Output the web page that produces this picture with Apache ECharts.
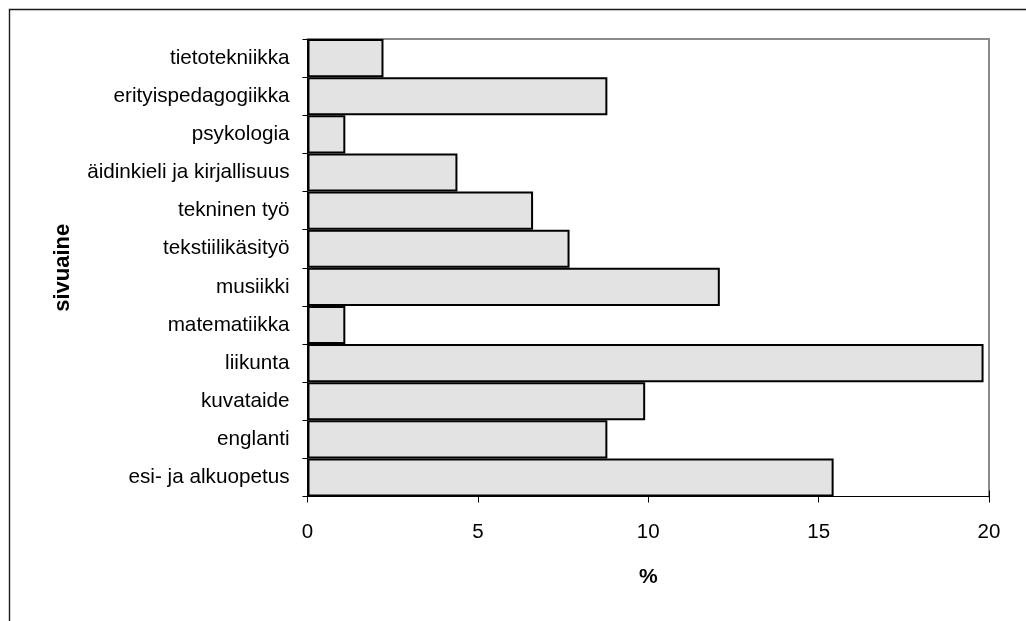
<!DOCTYPE html>
<html>
<head>
<meta charset="utf-8">
<script src="https://cdn.jsdelivr.net/npm/echarts@6/dist/echarts.min.js"></script>
<style>
  html, body { margin: 0; padding: 0; background: #fff; }
  #chart { width: 1026px; height: 621px; }
</style>
</head>
<body>
<div id="chart"></div>
<script>
// Sivuaineet, listed top to bottom
const categories = [
  'tietotekniikka',
  'erityispedagogiikka',
  'psykologia',
  'äidinkieli ja kirjallisuus',
  'tekninen työ',
  'tekstiilikäsityö',
  'musiikki',
  'matematiikka',
  'liikunta',
  'kuvataide',
  'englanti',
  'esi- ja alkuopetus'
];
// Osuus vastaajista (%)
const shares = [2.23, 8.8, 1.11, 4.4, 6.62, 7.69, 12.1, 1.11, 19.84, 9.91, 8.8, 15.44];
const xMin = 0, xMax = 20, xStep = 5;
const xTitle = '%';
const yTitle = 'sivuaine';

const FONT = '"Liberation Sans", Arial, sans-serif';
const chart = echarts.init(document.getElementById('chart'), null, { renderer: 'canvas' });

chart.setOption({
  animation: false,
  backgroundColor: '#ffffff',
  textStyle: { fontFamily: FONT },
  grid: { left: 307.5, right: 37, top: 39, bottom: 124.5, containLabel: false },
  graphic: [{
    type: 'polyline',
    shape: { points: [[9.5, 640], [9.5, 9.5], [1040, 9.5]] },
    style: { stroke: '#1a1a1a', lineWidth: 1.4, fill: null },
    silent: true
  }],
  xAxis: [
    {
      type: 'value', position: 'bottom', min: xMin, max: xMax, interval: xStep,
      name: xTitle, nameLocation: 'middle', nameGap: 70,
      nameTextStyle: { fontFamily: FONT, fontSize: 21, fontWeight: 'bold', color: '#000' },
      axisLine: { show: true, onZero: false, lineStyle: { color: '#000', width: 1 } },
      axisTick: { show: true, inside: false, length: 6, lineStyle: { color: '#000', width: 1 } },
      axisLabel: { show: true, margin: 25, fontFamily: FONT, fontSize: 20.5, color: '#000' },
      splitLine: { show: false }
    },
    {
      type: 'value', position: 'bottom', min: xMin, max: xMax, interval: xStep,
      axisLine: { show: false },
      axisTick: { show: true, inside: true, length: 6, lineStyle: { color: '#000', width: 1 } },
      axisLabel: { show: false },
      splitLine: { show: false }
    },
    {
      type: 'value', position: 'top', min: xMin, max: xMax, interval: xStep,
      axisLine: { show: true, onZero: false, lineStyle: { color: '#8a8a8a', width: 2 } },
      axisTick: { show: false }, axisLabel: { show: false }, splitLine: { show: false }
    }
  ],
  yAxis: [
    {
      type: 'category', data: categories, inverse: true, position: 'left',
      name: yTitle, nameLocation: 'middle', nameGap: 234, nameRotate: 90,
      nameTextStyle: { fontFamily: FONT, fontSize: 22, fontWeight: 'bold', color: '#000' },
      axisLine: { show: true, onZero: false, lineStyle: { color: '#000', width: 1 } },
      axisTick: { show: true, inside: false, length: 5, alignWithLabel: false, lineStyle: { color: '#000', width: 1 } },
      axisLabel: { show: true, margin: 18, fontFamily: FONT, fontSize: 20.7, color: '#000', interval: 0 },
      splitLine: { show: false }
    },
    {
      type: 'value', position: 'right', min: 0, max: 1,
      axisLine: { show: true, onZero: false, lineStyle: { color: '#8a8a8a', width: 2 } },
      axisTick: { show: false }, axisLabel: { show: false }, splitLine: { show: false }
    }
  ],
  series: [{
    type: 'bar',
    xAxisIndex: 0,
    yAxisIndex: 0,
    data: shares,
    barCategoryGap: 0,
    itemStyle: { color: '#e3e3e3', borderColor: '#000', borderWidth: 2 },
    z: 3
  }]
});
</script>
</body>
</html>
